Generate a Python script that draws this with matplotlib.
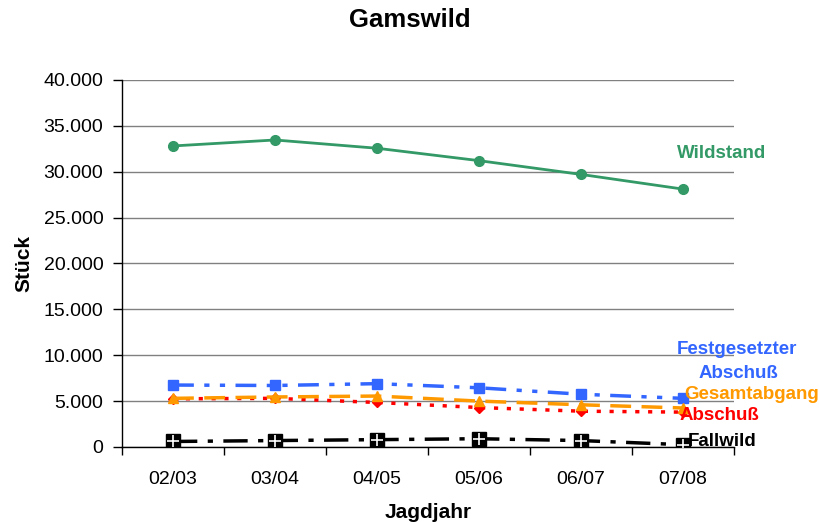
import matplotlib
matplotlib.use("Agg")
import matplotlib.pyplot as plt
from matplotlib.ticker import FuncFormatter, FixedLocator

plt.rcParams['font.family'] = ['Liberation Sans', 'DejaVu Sans']

categories = ["02/03", "03/04", "04/05", "05/06", "06/07", "07/08"]
wildstand = [32800, 33450, 32550, 31200, 29700, 28100]
festgesetzt = [6750, 6700, 6900, 6450, 5750, 5300]
gesamtabgang = [5300, 5450, 5550, 5000, 4600, 4250]
abschuss = [5250, 5300, 4850, 4300, 3900, 3800]
fallwild = [600, 700, 800, 900, 700, 250]
yticks = [0, 5000, 10000, 15000, 20000, 25000, 30000, 35000, 40000]

fig = plt.figure(figsize=(8.19, 5.22), dpi=100)
ax = fig.add_axes([0.149, 0.1437, 0.747, 0.7033])
x = list(range(len(categories)))

ax.plot(x, wildstand, color='#339966', lw=2, marker='o', ms=7, zorder=3)
ax.plot(x, festgesetzt, color='#3366FF', lw=2.5, dashes=(6, 3, 1.5, 3, 1.5, 3), marker='s', ms=6.5, zorder=3)
ax.plot(x, abschuss, color='#FF0000', lw=2.5, dashes=(1.2, 2.5), marker='D', ms=5.5, zorder=3)
ax.plot(x, gesamtabgang, color='#FF9900', lw=2.5, dashes=(6, 3), marker='^', ms=7, zorder=4)
ax.plot(x, fallwild, color='black', lw=2.5, dashes=(7, 3, 1.5, 3), marker='s', ms=10, zorder=3)
ax.plot(x, fallwild, ls='none', marker='+', color='white', ms=8, mew=1.2, zorder=5)

ax.set_xlim(-0.5, 5.5)
ax.set_ylim(0, 40000)
ax.set_yticks(yticks)
ax.yaxis.set_major_formatter(FuncFormatter(lambda v, p: f"{int(v):,}".replace(",", ".")))
ax.set_xticks(x)
ax.set_xticklabels(categories)
ax.xaxis.set_minor_locator(FixedLocator([i - 0.5 for i in range(len(categories) + 1)]))
ax.tick_params(axis='x', which='major', length=0, pad=17, labelsize=14)
ax.tick_params(axis='x', which='minor', length=6, width=1, direction='out')
ax.tick_params(axis='y', length=6.5, width=1, direction='out', labelsize=14, pad=7)
ax.grid(axis='y', color='#808080', lw=1)
ax.set_axisbelow(True)
for s in ['top', 'right']:
    ax.spines[s].set_visible(False)
ax.spines['left'].set_linewidth(1)
ax.spines['bottom'].set_linewidth(1)
ax.set_xlabel("Jagdjahr", fontsize=15, fontweight='bold', labelpad=11)
ax.set_ylabel("Stück", fontsize=15, fontweight='bold', labelpad=7)
fig.text(0.5, 0.962, "Gamswild", fontsize=18.5, fontweight='bold', ha='center', va='center')

tk = dict(fontsize=13.5, fontweight='bold', ha='center', va='center', zorder=6)
ax.text(5.38, 31950, "Wildstand", color='#339966', **tk)
ax.text(5.53, 10600, "Festgesetzter", color='#3366FF', **tk)
ax.text(5.545, 8000, "Abschuß", color='#3366FF', **tk)
ax.text(5.67, 5750, "Gesamtabgang", color='#FF9900', **tk)
ax.text(5.355, 3400, "Abschuß", color='#FF0000', **tk)
ax.text(5.385, 650, "Fallwild", color='black', **tk)

fig.savefig("out.png", dpi=100)
